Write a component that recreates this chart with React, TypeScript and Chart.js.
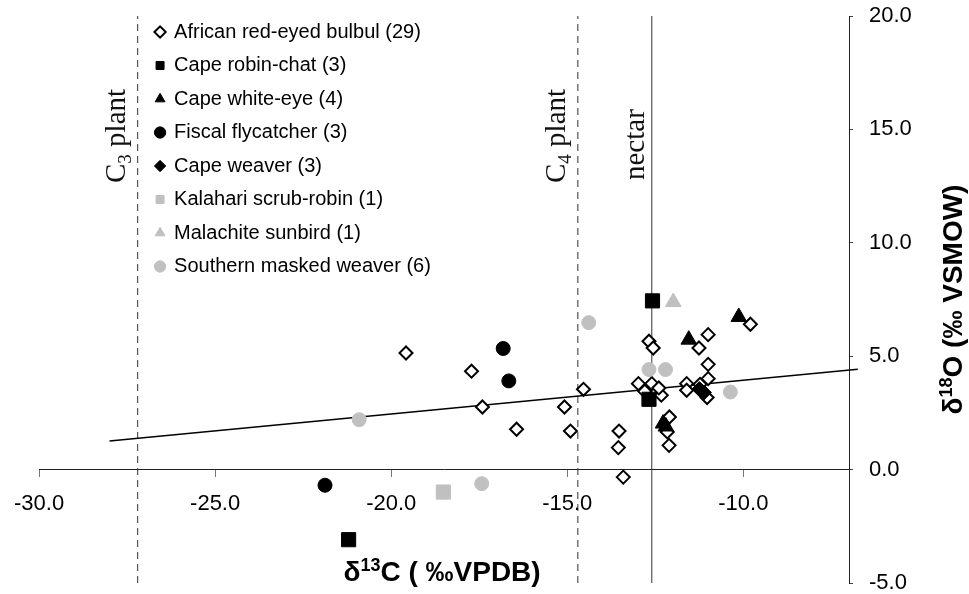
import React, { useEffect, useRef } from 'react';
import { Chart, registerables } from 'chart.js';

Chart.register(...registerables);

type P = [number, number];

// Species labels (legend order)
const speciesLabels = [
  'African red-eyed bulbul (29)',
  'Cape robin-chat (3)',
  'Cape white-eye (4)',
  'Fiscal flycatcher (3)',
  'Cape weaver (3)',
  'Kalahari scrub-robin (1)',
  'Malachite sunbird (1)',
  'Southern masked weaver (6)',
];

// δ13C (x), δ18O (y) values
const bulbul: P[] = [
  [-19.58, 5.14], [-17.72, 4.34], [-17.41, 2.76], [-16.44, 1.78], [-15.08, 2.76],
  [-14.91, 1.70], [-14.54, 3.54], [-13.53, 1.70], [-13.55, 0.97], [-13.41, -0.33],
  [-12.68, 5.66], [-12.56, 5.36], [-11.0, 5.95], [-11.26, 5.36], [-9.8, 6.41],
  [-11.0, 4.64], [-11.0, 4.01], [-12.98, 3.79], [-12.6, 3.79], [-12.33, 3.28],
  [-11.61, 3.79], [-11.61, 3.5], [-11.23, 3.76], [-11.03, 3.18], [-12.1, 2.32],
  [-12.16, 1.66], [-12.11, 1.07], [-12.8, 3.45], [-12.4, 3.6],
];
const robinChat: P[] = [[-12.58, 7.44], [-12.68, 3.1], [-21.21, -3.09]];
const whiteEye: P[] = [[-10.13, 6.73], [-11.55, 5.73], [-12.28, 2.03], [-12.2, 1.9]];
const fiscal: P[] = [[-16.82, 5.34], [-16.66, 3.91], [-21.88, -0.69]];
const capeWeaver: P[] = [[-11.19, 3.47], [-11.25, 3.55], [-11.12, 3.4]];
const kalahari: P[] = [[-18.52, -0.99]];
const malachite: P[] = [[-11.99, 7.39]];
const maskedWeaver: P[] = [[-14.39, 6.48], [-12.68, 4.41], [-12.21, 4.41], [-10.37, 3.42], [-20.91, 2.2], [-17.43, -0.62]];

// Regression line end points
const trendX = [-28.0, -6.75];
const trendY = [1.26, 4.42];

// Reference lines (δ13C)
const c3PlantX = -27.2;
const c4PlantX = -14.7;
const nectarX = -12.6;

// Axes
const xMin = -30, xMax = -7, xStep = 5;
const yMin = -5, yMax = 20, yStep = 5;

const SANS = "'Liberation Sans', Arial, Helvetica, sans-serif";
const SERIF = "'Liberation Serif', 'Times New Roman', serif";

const toXY = (pts: P[]) => pts.map(([x, y]) => ({ x, y }));

type Seg = { t: string; size: number; dy: number };

function drawSegs(ctx: CanvasRenderingContext2D, segs: Seg[], weight: string, family: string, x: number, y: number, align: 'left' | 'center') {
  let total = 0;
  const widths = segs.map((s) => {
    ctx.font = `${weight} ${s.size}px ${family}`;
    const w = ctx.measureText(s.t).width;
    total += w;
    return w;
  });
  let cx = align === 'center' ? x - total / 2 : x;
  segs.forEach((s, i) => {
    ctx.font = `${weight} ${s.size}px ${family}`;
    ctx.fillText(s.t, cx, y + s.dy);
    cx += widths[i];
  });
}

const legendShift = {
  id: 'legendShift',
  afterLayout(chart: any) {
    const lg = chart.legend;
    const ca = chart.chartArea;
    if (!lg || !ca) return;
    lg.left = ca.left + 103.5;
    lg.right = lg.left + lg.width;
    lg.top = ca.top - 7.5;
    lg.bottom = lg.top + lg.height;
  },
};

const annotations = {
  id: 'annotations',
  afterDraw(chart: any) {
    const ctx: CanvasRenderingContext2D = chart.ctx;
    const xs = chart.scales.x;
    const ca = chart.chartArea;
    ctx.save();
    ctx.fillStyle = '#111';
    ctx.textBaseline = 'alphabetic';
    const vlabel = (xVal: number, dx: number, yPix: number, segs: Seg[]) => {
      ctx.save();
      ctx.translate(xs.getPixelForValue(xVal) + dx, yPix);
      ctx.rotate(-Math.PI / 2);
      drawSegs(ctx, segs, 'normal', SERIF, 0, 0, 'left');
      ctx.restore();
    };
    vlabel(c3PlantX, -13, ca.top + 167, [
      { t: 'C', size: 29, dy: 0 },
      { t: '3', size: 19, dy: 6 },
      { t: ' plant', size: 29, dy: 0 },
    ]);
    vlabel(c4PlantX, -13, ca.top + 167, [
      { t: 'C', size: 29, dy: 0 },
      { t: '4', size: 19, dy: 6 },
      { t: ' plant', size: 29, dy: 0 },
    ]);
    vlabel(nectarX, -8, ca.top + 164, [{ t: 'nectar', size: 29, dy: 0 }]);

    // x-axis title
    ctx.fillStyle = '#000';
    drawSegs(ctx, [
      { t: 'δ', size: 28, dy: 0 },
      { t: '13', size: 18, dy: -10 },
      { t: 'C ( ‰VPDB)', size: 28, dy: 0 },
    ], 'bold', SANS, (ca.left + ca.right) / 2 - 2, ca.bottom - 2, 'center');

    // y-axis title
    ctx.save();
    ctx.translate(ca.right + 113, (ca.top + ca.bottom) / 2);
    ctx.rotate(-Math.PI / 2);
    drawSegs(ctx, [
      { t: 'δ', size: 28, dy: 0 },
      { t: '18', size: 18, dy: -10 },
      { t: 'O (‰ VSMOW)', size: 28, dy: 0 },
    ], 'bold', SANS, 0, 0, 'center');
    ctx.restore();
    ctx.restore();
  },
};

export default function App() {
  const ref = useRef<HTMLCanvasElement | null>(null);

  useEffect(() => {
    if (!ref.current) return;
    const black = '#000000';
    const grey = '#c0c0c0';
    const markerSets = [
      { data: bulbul, style: 'rectRot', r: 6.5, bg: '#ffffff', bc: black, bw: 2 },
      { data: robinChat, style: 'rect', r: 10, bg: black, bc: black, bw: 1 },
      { data: whiteEye, style: 'triangle', r: 9, bg: black, bc: black, bw: 1 },
      { data: fiscal, style: 'circle', r: 7, bg: black, bc: black, bw: 1 },
      { data: capeWeaver, style: 'rectRot', r: 7.5, bg: black, bc: black, bw: 1 },
      { data: kalahari, style: 'rect', r: 10, bg: grey, bc: grey, bw: 1 },
      { data: malachite, style: 'triangle', r: 9, bg: grey, bc: grey, bw: 1 },
      { data: maskedWeaver, style: 'circle', r: 7, bg: grey, bc: grey, bw: 1 },
    ];
    const pointDatasets = markerSets.map((m, i) => ({
      label: speciesLabels[i],
      data: toXY(m.data),
      pointStyle: m.style,
      pointRadius: m.r,
      backgroundColor: m.bg,
      borderColor: m.bc,
      borderWidth: m.bw,
      showLine: false,
      order: markerSets.length - i,
    }));
    const vline = (xv: number, dash: number[]) => ({
      label: 'ref',
      data: [{ x: xv, y: yMin }, { x: xv, y: yMax }],
      showLine: true,
      pointRadius: 0,
      borderColor: '#333333',
      borderWidth: 1,
      borderDash: dash,
      fill: false,
      order: 30,
    });
    const chart = new Chart(ref.current, {
      type: 'scatter',
      data: {
        datasets: [
          ...pointDatasets,
          vline(c3PlantX, [7, 5]),
          vline(c4PlantX, [7, 5]),
          vline(nectarX, []),
          {
            label: 'trend',
            data: trendX.map((x, i) => ({ x, y: trendY[i] })),
            showLine: true,
            pointRadius: 0,
            borderColor: '#000000',
            borderWidth: 1.5,
            fill: false,
            clip: false,
            order: 25,
          },
        ] as any,
      },
      options: {
        animation: false,
        responsive: true,
        maintainAspectRatio: false,
        events: [],
        layout: { padding: { left: 37, top: 16, right: 0, bottom: 11 } },
        scales: {
          x: {
            type: 'linear',
            min: xMin,
            max: xMax,
            position: { y: 0 } as any,
            afterFit: (s: any) => { s.height = 0; },
            border: { display: true, color: '#222222', width: 1 },
            grid: { display: true, drawOnChartArea: false, drawTicks: true, tickLength: 7, color: '#777777', tickColor: '#777777' },
            ticks: {
              stepSize: xStep,
              includeBounds: false,
              autoSkip: false,
              maxRotation: 0,
              padding: 14,
              color: '#000000',
              font: { family: SANS, size: 22 },
              callback: (v: any) => Number(v).toFixed(1),
            },
          },
          y: {
            type: 'linear',
            min: yMin,
            max: yMax,
            position: 'right',
            afterFit: (s: any) => { s.width = 120; s.paddingTop = 0; s.paddingBottom = 0; },
            border: { display: true, color: '#222222', width: 1 },
            grid: { display: true, drawOnChartArea: false, drawTicks: true, tickLength: 4, color: '#444444', tickColor: '#444444' },
            ticks: {
              stepSize: yStep,
              includeBounds: false,
              padding: 16,
              color: '#000000',
              font: { family: SANS, size: 22 },
              callback: (v: any) => Number(v).toFixed(1),
            },
          },
        },
        plugins: {
          tooltip: { enabled: false },
          title: { display: false },
          legend: {
            display: true,
            position: 'chartArea' as any,
            align: 'start',
            labels: {
              usePointStyle: true,
              boxWidth: 8,
              boxHeight: 8,
              padding: 13.5,
              color: '#000000',
              font: { family: SANS, size: 20 },
              filter: (item: any) => item.datasetIndex < speciesLabels.length,
              sort: (a: any, b: any) => a.datasetIndex - b.datasetIndex,
            },
          },
        },
      } as any,
      plugins: [legendShift, annotations],
    });
    return () => chart.destroy();
  }, []);

  return (
    <div style={{ position: 'fixed', left: 0, top: 0, width: 969, height: 594, background: '#ffffff' }}>
      <canvas ref={ref} />
    </div>
  );
}
